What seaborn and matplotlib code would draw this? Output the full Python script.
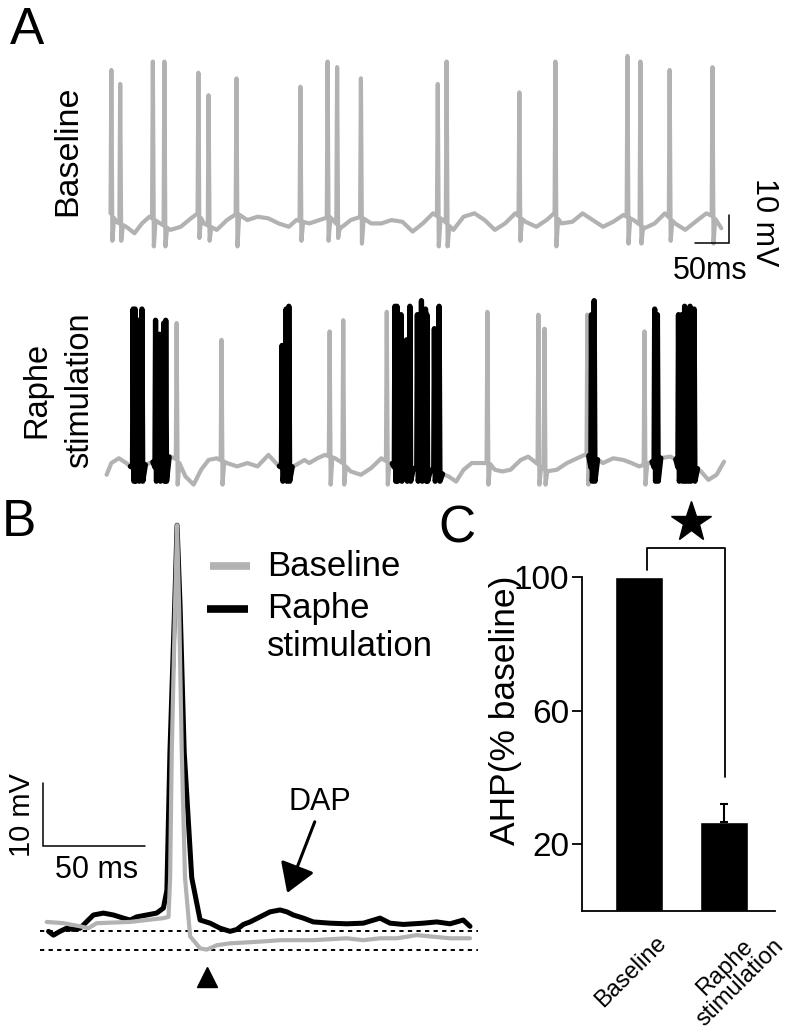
import numpy as np
import matplotlib
matplotlib.use("Agg")
import matplotlib.pyplot as plt
import seaborn as sns

# ---------------------------------------------------------------- data
# Panel A, top: baseline recording. Slow membrane fluctuation (ms, mV re. rest)
bl_noise_t = [2, 9, 24, 36, 47, 58, 70, 89, 104, 119, 130, 138, 157, 172, 187, 202, 217, 233, 248, 263,
              274, 293, 308, 323, 339, 354, 369, 384, 399, 414, 430, 445, 460, 475, 490, 505, 520, 536, 551, 566,
              581, 596, 611, 627, 642, 653, 664, 680, 695, 710, 725, 740, 755, 770, 786, 801, 816, 831, 846, 861,
              877, 888, 899]
bl_noise_v = [3.8, 0.8, -1.0, -3.3, 0.2, 2.6, 0.8, -2.1, -1.0, 2.0, 4.0, 0.2, -2.1, 1.4, 3.8, 1.4, 2.6, 2.0, 0.2, -1.0,
              1.4, 0.2, 1.4, 2.6, -1.5, 1.4, 2.6, 0.2, 0.2, 1.4, 0.8, -2.7, 0.2, 3.8, 1.4, -2.1, 2.6, 3.8, 1.4, -2.1,
              0.2, 3.8, 0.8, -1.0, 1.4, 3.8, 0.2, 0.8, 3.8, 1.4, -1.0, 0.8, 3.2, 1.4, -1.5, 0.2, 3.8, 0.2, -2.1, 0.8,
              3.8, 2.6, -1.5]
bl_spike_t = [2, 15, 63, 80, 130, 145, 186, 280, 320, 334, 369, 482, 495, 602, 655, 761, 780, 823, 886]
bl_spike_peak = [55, 50, 58, 58, 54, 46, 52, 49, 58, 56, 52, 50, 58, 47, 58, 60, 58, 55, 56]
bl_spike_trough = [-6, -6, -8, -8, -5, -6, -8, -6, -6, -5, -7, -8, -8, -6, -8, -7, -7, -6, -7]

# Panel A, bottom: raphe stimulation recording
rs_noise_t = [-5, 2, 13, 24, 36, 58, 89, 100, 111, 123, 134, 145, 157, 172, 187, 202, 217, 233, 244, 255,
              270, 286, 293, 305, 316, 331, 342, 354, 369, 384, 399, 411, 445, 480, 498, 509, 520, 532, 547, 558,
              566, 577, 589, 604, 615, 627, 642, 657, 672, 687, 698, 710, 725, 740, 755, 767, 778, 793, 808, 824,
              839, 854, 869, 880, 892, 903]
rs_noise_v = [-4.2, 0, 1.7, 0, -2.4, 0, 2.3, 1.1, -4.8, -7.7, -2.4, 1.1, 1.7, 0, -1.2, 0, -1.2, 2.9, 0, -2.4,
              -1.2, 1.1, 0, 1.7, 2.9, 1.7, 0, -3.0, -4.2, -1.8, 1.7, 0, -2.0, -3.0, -4.8, -6.6, -2.4, 0, 0, 0,
              -2.4, -3.0, -2.4, 1.1, 2.3, 0, -3.0, -2.4, 0, 1.7, 2.9, 2.3, 0, 1.7, 1.1, 0, -1.2, 0, 1.7, 2.3,
              0.5, 0, -3.0, -6.0, -4.2, 0.5]
rs_single_t = [98, 164, 323, 343, 407, 555, 630, 639, 702, 786]
rs_single_peak = [50, 44, 47, 51, 54, 54, 53, 48, 53, 47]
rs_burst_t = [[34, 37, 42, 47], [67, 73, 79, 82], [253, 259, 263], [419, 422, 428, 436, 441],
              [452, 458, 464, 466], [477, 484], [708, 712], [801, 805], [836, 841, 845, 849, 853, 859]]
rs_burst_peak = [[55, 55, 51, 55], [51, 46, 50, 51], [42, 55, 56], [56, 56, 53, 44, 56],
                 [53, 58, 55, 53], [48, 56], [53, 58], [55, 53], [53, 53, 56, 55, 56, 55]]

# Panel B: averaged action potentials (ms from peak, mV re. baseline)
ap_bl_t = [-63.9, -55.7, -47.5, -43.5, -39.4, -31.2, -23, -14.9, -6.7, -4.2, -3.4, -2.6, -1.0, 0, 1.0, 2.3, 3.9,
           6.4, 11.3, 14.5, 19.5, 26, 42.3, 50.5, 66.8, 83.2, 91.3, 99.5, 107.7, 117.5, 124, 133.8, 143.6]
ap_bl_v = [0, -0.2, -0.7, -1.0, -0.2, -0.1, 0, 0.3, 0.6, 0.8, 7, 27, 50, 63, 50, 27, 7,
           -2.3, -4.2, -4.4, -3.7, -3.4, -3.1, -2.9, -2.9, -2.6, -2.9, -2.6, -2.6, -2.1, -2.3, -2.6, -2.6]
ap_rs_t = [-63, -60.6, -57.4, -54.1, -50.8, -47.5, -43.5, -41, -36.1, -31.2, -26.3, -23, -19.8, -14.9, -10, -6.7,
           -5.0, -3.5, -1.2, 0, 1.5, 3.5, 7.2, 11.3, 16.2, 21.1, 26, 29.3, 32.5, 35.8, 40.7, 45.6, 50.5, 53.8,
           57, 61.9, 66.8, 75, 83.2, 91.3, 99.5, 104.4, 110.9, 120.7, 127.3, 133.8, 140.3, 143.6]
ap_rs_v = [-1.5, -2.1, -1.5, -1.0, -1.2, -1.0, 0.3, 1.1, 1.4, 1.1, 0.6, 0.3, 0.8, 1.1, 1.4, 2.2,
           5, 27, 50, 63, 50, 27, 7, 0.3, -0.2, -1.0, -1.5, -1.2, -0.4, 0, 0.8, 1.6, 1.9, 1.6,
           1.1, 0.6, 0, -0.2, -0.3, -0.2, 0.6, -0.2, -0.4, -0.2, 0, -0.3, 0.3, -0.7]
ahp_levels = [-1.5, -4.4]
ahp_trough_t = 14.5
dap_peak = (50.5, 1.9)

# Panel C: AHP amplitude
conditions = ["Baseline", "Raphe\nstimulation"]
ahp_mean = [100, 26.7]
ahp_sem = [0, 5.3]

# ---------------------------------------------------------------- helpers
def build_trace(bt, bv, st, sp, sq, rise=1.2, fall=1.5, rec=4.0):
    bt = np.asarray(bt, float)
    bv = np.asarray(bv, float)
    keep = np.ones(len(bt), bool)
    for s in st:
        keep &= ~((bt > s - rise) & (bt < s + rec))
    ts, vs = list(bt[keep]), list(bv[keep])
    for s, p, q in zip(st, sp, sq):
        ts += [s - rise, s, s + fall, s + rec]
        vs += [np.interp(s - rise, bt, bv), p, q, np.interp(s + rec, bt, bv)]
    o = np.argsort(ts, kind="stable")
    return np.array(ts)[o], np.array(vs)[o]


def build_burst(bt, bv, times, peaks, trough=-6.5):
    t0, t1 = times[0] - 4, times[-1] + 5
    ts, vs = [t0], [np.interp(t0, bt, bv)]
    for s, p in zip(times, peaks):
        ts += [s - 0.9, s, s + 1.2]
        vs += [-1.5, p, trough]
    ts.append(t1)
    vs.append(np.interp(t1, bt, bv))
    return np.array(ts), np.array(vs)


sns.set_theme(style="white")
plt.rcParams["font.family"] = ["Liberation Sans", "DejaVu Sans"]
plt.rcParams["axes.unicode_minus"] = False
for k in ("text.color", "axes.labelcolor", "xtick.color", "ytick.color", "axes.edgecolor"):
    plt.rcParams[k] = "black"

W, H = 802, 1035
fig = plt.figure(figsize=(W / 100, H / 100), dpi=100)
GREY = "#b2b2b2"


def px_axes(x0, y0, x1, y1):
    return fig.add_axes([x0 / W, 1 - y1 / H, (x1 - x0) / W, (y1 - y0) / H])


def trace(ax, t, v, color, lw):
    sns.lineplot(x=t, y=v, ax=ax, color=color, lw=lw, sort=False, estimator=None,
                 legend=False, solid_joinstyle="round", solid_capstyle="round")

# ---------------------------------------------------------------- Panel A top
axA1 = px_axes(90, 40, 790, 280)
t, v = build_trace(bl_noise_t, bl_noise_v, bl_spike_t, bl_spike_peak, bl_spike_trough)
trace(axA1, t, v, GREY, 3.0)
axA1.set_xlim(-29.4, 1000)
axA1.set_ylim(-20, 65.7)
axA1.set_axis_off()
# scale bar 50 ms / 10 mV
sx, sy = 910, -6.8
axA1.plot([sx - 50, sx, sx], [sy, sy, sy + 10], color="black", lw=1.1, solid_joinstyle="miter")
axA1.text(sx + 52, sy + 7.5, "10 mV", rotation=270, ha="center", va="center", fontsize=22)
axA1.text(sx - 28, sy - 10.0, "50ms", ha="center", va="center", fontsize=22)

# ---------------------------------------------------------------- Panel A bottom
axA2 = px_axes(90, 290, 790, 500)
t, v = build_trace(rs_noise_t, rs_noise_v, rs_single_t, rs_single_peak, [-7.7] * len(rs_single_t))
trace(axA2, t, v, GREY, 3.0)
for bt_, bp_ in zip(rs_burst_t, rs_burst_peak):
    t, v = build_burst(rs_noise_t, rs_noise_v, bt_, bp_)
    trace(axA2, t, v, "black", 3.8)
axA2.set_xlim(-29.4, 1000)
axA2.set_ylim(-13.2, 61.8)
axA2.set_axis_off()

# ---------------------------------------------------------------- Panel B
axB = px_axes(0, 500, 480, 1000)
for lvl in ahp_levels:
    axB.hlines(lvl, -67, 147.5, colors="black", linestyles=(0, (2.2, 2.2)), lw=1.4)
trace(axB, np.array(ap_rs_t), np.array(ap_rs_v), "black", 3.6)
trace(axB, np.array(ap_bl_t), np.array(ap_bl_v), GREY, 3.0)
axB.set_xlim(-86.8, 148.5)
axB.set_ylim(-12.4, 67)
axB.set_axis_off()
# legend
axB.plot([16.2, 35.8], [56.5, 56.5], color=GREY, lw=5.5, solid_capstyle="butt")
axB.plot([14.7, 34.8], [49.7, 49.7], color="black", lw=5.5, solid_capstyle="butt")
axB.text(44.1, 56.5, "Baseline", fontsize=25, ha="left", va="center")
axB.text(44.1, 49.7, "Raphe", fontsize=25, ha="left", va="center")
axB.text(44.1, 43.7, "stimulation", fontsize=25, ha="left", va="center")
# scale bar
bx, by = -65.7, 12.1
axB.plot([bx, bx, bx + 50], [by + 10, by, by], color="black", lw=1.1, solid_joinstyle="miter")
axB.text(bx - 10.3, by + 4.9, "10 mV", rotation=90, ha="center", va="center", fontsize=21)
axB.text(bx + 26, by - 3.8, "50 ms", ha="center", va="center", fontsize=22)
# AHP arrowhead and DAP arrow
axB.plot([ahp_trough_t], [ahp_levels[1] - 4.3], marker="^", ms=15, color="black", clip_on=False)
axB.annotate("", xy=(dap_peak[0] + 3.5, dap_peak[1] + 2.7), xytext=(dap_peak[0] + 17, dap_peak[1] + 14),
             arrowprops=dict(arrowstyle="-|>,head_length=0.8,head_width=0.5", color="black", lw=2.2,
                             shrinkA=0, shrinkB=0, mutation_scale=22))
axB.text(dap_peak[0] + 19.5, dap_peak[1] + 17.1, "DAP", ha="center", va="center", fontsize=22)

# ---------------------------------------------------------------- Panel C
axC = px_axes(582, 577, 775, 911)
sns.barplot(x=conditions, y=ahp_mean, color="black", saturation=1, width=0.565, errorbar=None, ax=axC)
axC.errorbar([1], [ahp_mean[1]], yerr=[[0], [ahp_sem[1]]], fmt="none", ecolor="black",
             elinewidth=1.5, capsize=3.2, capthick=1.5)
axC.set_xlim(-0.67, 1.6)
axC.set_ylim(0, 100)
axC.set_yticks([20, 60, 100])
axC.set_yticklabels(["20", "60", "100"], fontsize=24)
axC.set_xticks([])
axC.set_xlabel("")
axC.set_ylabel("")
sns.despine(ax=axC)
for s in ("left", "bottom"):
    axC.spines[s].set_color("black")
    axC.spines[s].set_linewidth(1.3)
axC.tick_params(axis="y", left=True, direction="out", length=7, width=1.3, pad=2, colors="black")
axC.text(-0.395, 0.60, "AHP(% baseline)", transform=axC.transAxes, rotation=90,
         ha="center", va="center", fontsize=25.5)
axC.text(-0.09, -18.3, "Baseline", rotation=45, rotation_mode="anchor", ha="center", va="center",
         fontsize=17, clip_on=False)
axC.text(1.1, -19.2, conditions[1], rotation=45, rotation_mode="anchor", ha="center", va="center",
         multialignment="center", linespacing=0.95, fontsize=17, clip_on=False)
# significance bracket
top = ahp_mean[0] + 8.7
axC.plot([0.094, 0.094, 1.01, 1.01], [ahp_mean[0] + 2, top, top, ahp_mean[1] + ahp_sem[1] + 8.2],
         color="black", lw=1.3, clip_on=False)
axC.plot([0.61], [top + 7.7], marker="*", ms=30, color="black", clip_on=False)

# ---------------------------------------------------------------- labels
fig.text(27 / W, 1 - 31 / H, "A", fontsize=37, ha="center", va="center")
fig.text(19 / W, 1 - 522 / H, "B", fontsize=37, ha="center", va="center")
fig.text(457 / W, 1 - 529 / H, "C", fontsize=37, ha="center", va="center")
fig.text(68 / W, 1 - 151 / H, "Baseline", rotation=90, fontsize=24.5, ha="center", va="center")
fig.text(37 / W, 1 - 390 / H, "Raphe", rotation=90, fontsize=23.5, ha="center", va="center")
fig.text(80 / W, 1 - 390 / H, "stimulation", rotation=90, fontsize=23.5, ha="center", va="center")

fig.savefig("out.png", dpi=100)
